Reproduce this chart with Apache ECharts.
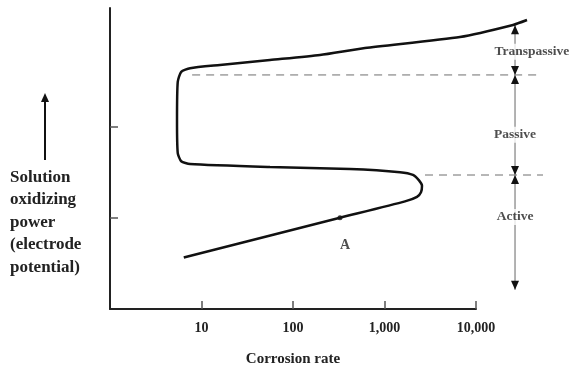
<!DOCTYPE html>
<html>
<head>
<meta charset="utf-8">
<script src="https://cdn.jsdelivr.net/npm/echarts@6/dist/echarts.min.js"></script>
<style>
  html, body { margin: 0; padding: 0; background: #fff; }
  #chart { width: 572px; height: 369px; }
</style>
</head>
<body>
<div id="chart"></div>
<script>
// polarization curve: corrosion rate (log) vs potential (arbitrary units)
var curveRate = [6.4, 326, 1675, 2266, 2506, 2570, 2383, 2048, 1477, 420, 56, 7.5, 6.0, 5.5, 5.4, 5.5, 6.0, 7.5, 15.9, 56, 197, 612, 6683, 25400, 36100];
var curvePotential = [0.565, 1.0, 1.18, 1.23, 1.28, 1.35, 1.41, 1.47, 1.5, 1.535, 1.557, 1.59, 1.62, 1.71, 2.07, 2.49, 2.6, 2.64, 2.675, 2.73, 2.785, 2.862, 2.982, 3.114, 3.168];

var tickValues = [10, 100, 1000, 10000];
var tickLabels = ['10', '100', '1,000', '10,000'];

// region boundaries (potential) and where the dashed lines run
var passiveTop = 2.566;
var activeTop = 1.469;
var dashTop = [7.9, 47600];
var dashBottom = [2772, 54000];

// region arrows on the right
var arrowRate = 26700;
var regionNames = ['Transpassive', 'Passive', 'Active'];
var regionSpans = [[3.11, passiveTop], [passiveTop, activeTop], [activeTop, 0.21]];
var regionLabelPos = [[40900, 2.82], [26700, 1.91], [26700, 1.01]];

var pointA = [326, 1.0];

var dom = document.getElementById('chart');
var chart = echarts.getInstanceByDom(dom);
if (chart == undefined || chart == null) {
    chart = echarts.init(dom);
} else {
    chart.clear();
}

var serif = '"Liberation Serif", "Times New Roman", serif';

var curveData = [];
for (var i = 0; i < curveRate.length; i++) {
    curveData.push([curveRate[i], curvePotential[i]]);
}

// everything is drawn on the wide hidden grid (index 1) so that the
// curve and the annotations can run past the 10,000 end of the visible axis
var series = [
    {
        type: 'line',
        xAxisIndex: 1,
        yAxisIndex: 1,
        data: curveData,
        smooth: 0.2,
        showSymbol: false,
        lineStyle: { color: '#111', width: 2.5 },
        z: 5
    },
    {
        type: 'line',
        xAxisIndex: 1,
        yAxisIndex: 1,
        data: [[dashTop[0], passiveTop], [dashTop[1], passiveTop]],
        showSymbol: false,
        lineStyle: { color: '#6f6f6f', width: 1, type: [8, 6] }
    },
    {
        type: 'line',
        xAxisIndex: 1,
        yAxisIndex: 1,
        data: [[dashBottom[0], activeTop], [dashBottom[1], activeTop]],
        showSymbol: false,
        lineStyle: { color: '#6f6f6f', width: 1, type: [8, 6] }
    }
];

regionSpans.forEach(function (span) {
    series.push({
        type: 'line',
        xAxisIndex: 1,
        yAxisIndex: 1,
        symbol: 'triangle',
        symbolSize: [8, 9],
        itemStyle: { color: '#111' },
        lineStyle: { color: '#999', width: 1.5 },
        data: [
            { value: [arrowRate, span[0]], symbolRotate: 0, symbolOffset: [0, 4.5] },
            { value: [arrowRate, span[1]], symbolRotate: 180, symbolOffset: [0, -4.5] }
        ],
        z: 3
    });
});

series.push({
    type: 'scatter',
    xAxisIndex: 1,
    yAxisIndex: 1,
    symbolSize: 0,
    data: regionLabelPos.map(function (p, k) {
        return { value: p, name: regionNames[k] };
    }),
    label: {
        show: true,
        position: 'inside',
        formatter: '{b}',
        color: '#222',
        fontFamily: serif,
        fontWeight: 'bold',
        fontSize: 13.5,
        backgroundColor: '#fff',
        padding: [1, 0]
    },
    z: 6
});

series.push({
    type: 'scatter',
    xAxisIndex: 1,
    yAxisIndex: 1,
    symbol: 'circle',
    symbolSize: 5,
    itemStyle: { color: '#111' },
    data: [{ value: pointA, name: 'A' }],
    label: {
        show: true,
        position: 'inside',
        offset: [5, 28],
        formatter: '{b}',
        color: '#222',
        fontFamily: serif,
        fontWeight: 'bold',
        fontSize: 14
    },
    z: 7
});

var option = {
    animation: false,
    backgroundColor: '#fff',
    grid: [
        { left: 110, right: 96, top: 8, bottom: 60, outerBoundsMode: 'none' },
        { left: 110, right: 4.5, top: 8, bottom: 60, outerBoundsMode: 'none' }
    ],
    xAxis: [
        {
            type: 'log',
            gridIndex: 0,
            logBase: 10,
            min: 1,
            max: 10000,
            name: 'Corrosion rate',
            nameLocation: 'middle',
            nameGap: 43,
            nameTextStyle: { fontFamily: serif, fontWeight: 'bold', fontSize: 15, color: '#222' },
            axisLine: { lineStyle: { color: '#222', width: 2 } },
            axisTick: { inside: true, length: 8, customValues: tickValues, lineStyle: { color: '#555', width: 1.5 } },
            axisLabel: {
                customValues: tickValues,
                margin: 12,
                fontFamily: serif,
                fontWeight: 'bold',
                fontSize: 14,
                color: '#222',
                formatter: function (v) {
                    var k = tickValues.indexOf(Math.round(v));
                    return k >= 0 ? tickLabels[k] : '';
                }
            },
            splitLine: { show: false }
        },
        {
            type: 'log',
            gridIndex: 1,
            logBase: 10,
            min: 1,
            max: 100000,
            show: false
        }
    ],
    yAxis: [
        {
            type: 'value',
            gridIndex: 0,
            min: 0,
            max: 3.3,
            axisLine: { show: true, lineStyle: { color: '#222', width: 2 } },
            axisTick: { show: true, inside: true, length: 8, customValues: [1, 2], lineStyle: { color: '#555', width: 1.5 } },
            axisLabel: { show: false },
            splitLine: { show: false }
        },
        {
            type: 'value',
            gridIndex: 1,
            min: 0,
            max: 3.3,
            show: false
        }
    ],
    graphic: [
        {
            type: 'line',
            shape: { x1: 45, y1: 160, x2: 45, y2: 100 },
            style: { stroke: '#111', lineWidth: 2 }
        },
        {
            type: 'polygon',
            shape: { points: [[41, 102], [49, 102], [45, 93]] },
            style: { fill: '#111' }
        },
        {
            type: 'text',
            left: 10,
            top: 166,
            style: {
                text: 'Solution\noxidizing\npower\n(electrode\npotential)',
                font: 'bold 17px ' + serif,
                lineHeight: 22.5,
                fill: '#222'
            }
        }
    ],
    series: series
};

chart.setOption(option);
window.addEventListener('resize', function () {
    chart.resize();
});
</script>
</body>
</html>
